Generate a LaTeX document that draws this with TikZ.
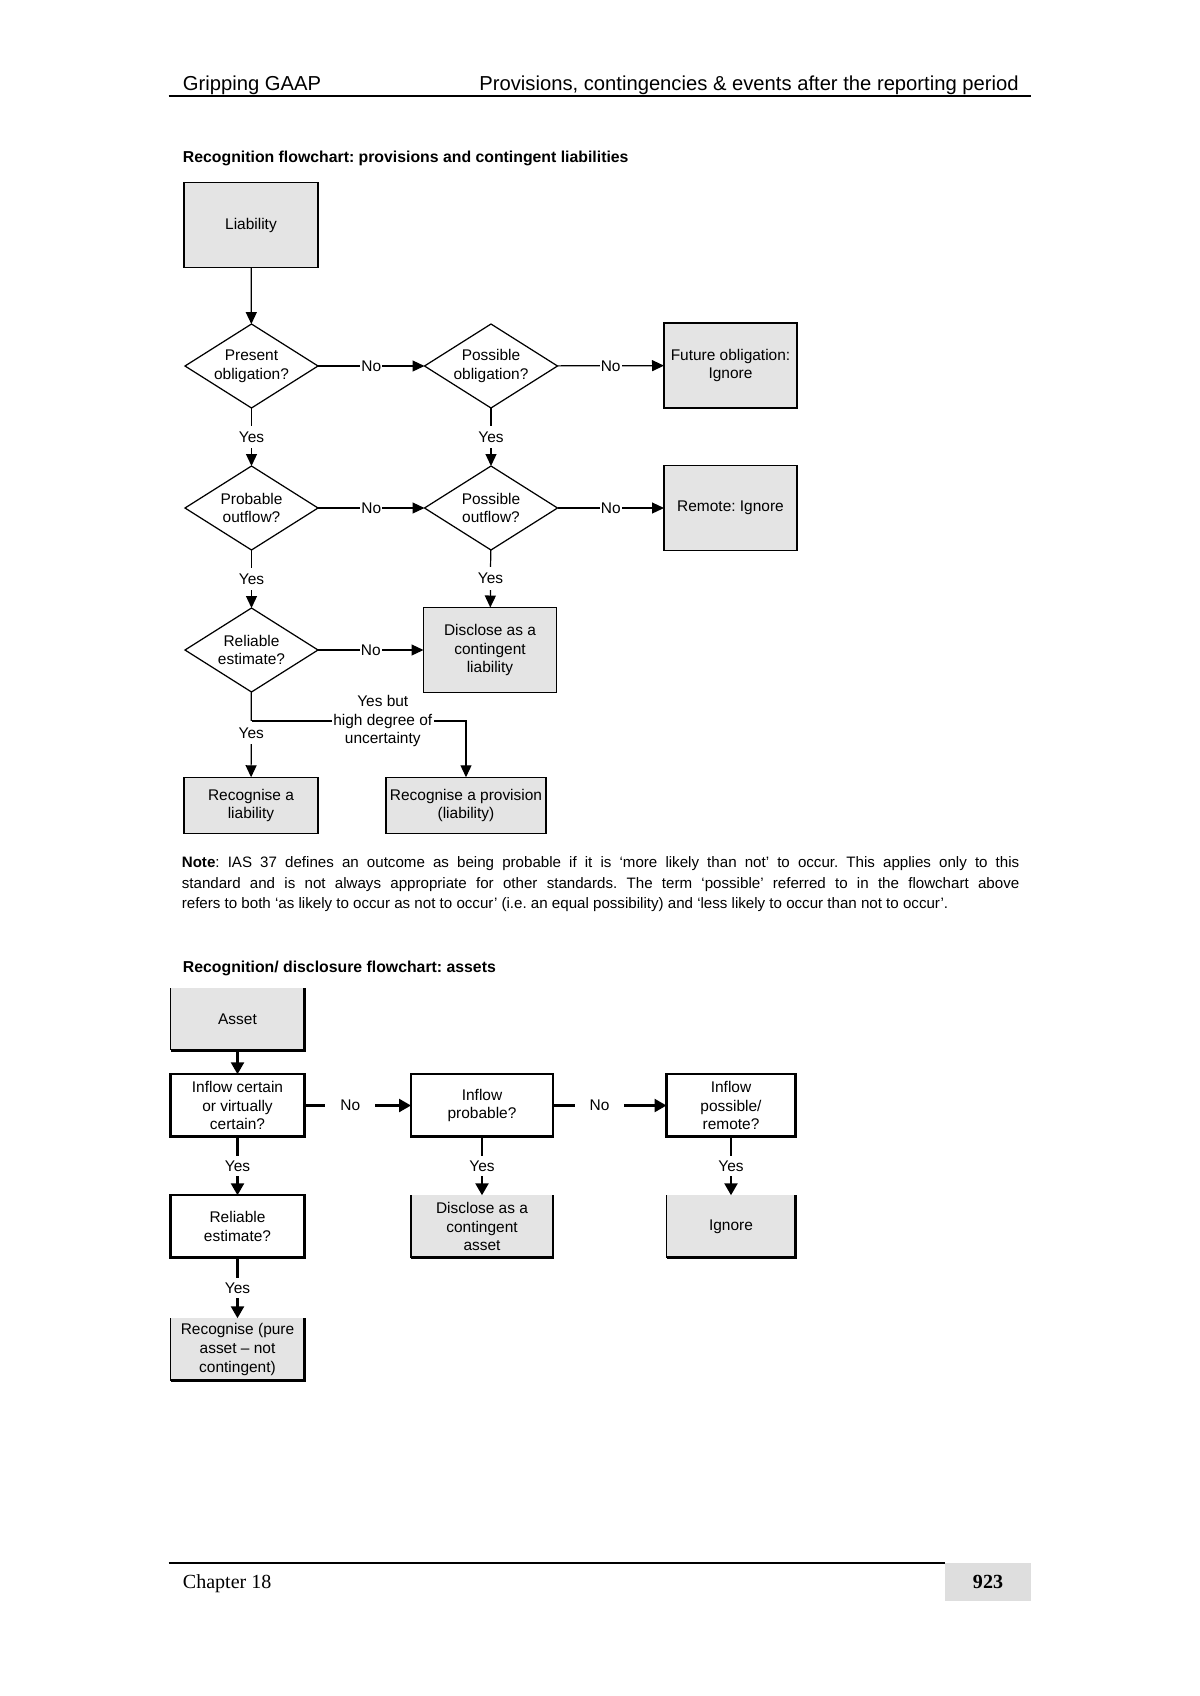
\documentclass[tikz,border=0pt]{standalone}
\usepackage{fontspec}
\setmainfont{Liberation Sans}
\newfontfamily\footserif{Liberation Serif}
\usetikzlibrary{shapes.geometric,arrows.meta}
\definecolor{boxgray}{RGB}{228,228,228}
\definecolor{pagegray}{RGB}{222,222,222}
\newcommand\rbedge[1]{\draw[line width=1.7pt] (#1.south west) -- (#1.south east) -- (#1.north east);}
\newcommand\grayedges[1]{\draw[line width=0.7pt] (#1.north west) -- (#1.south west);\rbedge{#1}}
\frenchspacing
\begin{document}
\begin{tikzpicture}[x=0.2mm,y=-0.2mm,
  chart/.style={font=\fontsize{8.8}{10.6}\selectfont, align=center},
  lbox/.style={chart, draw, fill=boxgray, line width=0.7pt, minimum width=26.8mm, minimum height=17mm, inner sep=0pt, outer sep=0pt},
  ldia/.style={diamond, draw, fill=white, line width=0.7pt, minimum width=26.6mm, minimum height=16.8mm, inner sep=0pt, outer sep=0pt},
  larr/.style={line width=0.7pt, -{Triangle[length=2.4mm,width=2.2mm]}},
  lbl/.style={chart, fill=white, inner xsep=0.6pt, inner ysep=1.2mm},
  awbox/.style={chart, draw, fill=white, line width=1.2pt, minimum height=12.5mm, inner sep=0pt, outer sep=0pt},
  agbox/.style={chart, fill=boxgray, minimum height=12.5mm, inner sep=0pt, outer sep=0pt},
  aarr/.style={line width=1.4pt, -{Triangle[length=2.4mm,width=2.6mm]}},
  albl/.style={chart, fill=white, inner xsep=3mm, inner ysep=1mm},
  hdr/.style={font=\fontsize{11.5}{13}\selectfont, inner sep=0pt},
  ttl/.style={font=\bfseries\fontsize{9}{11}\selectfont, inner sep=0pt, anchor=base west},
  notel/.style={font=\fontsize{8.6}{10}\selectfont, inner sep=0pt, anchor=base west}
]
\useasboundingbox (0,0) rectangle (1200,1696);

% ---------- header ----------
\node[hdr, anchor=base west] (hleft) at (182.6,90) {Gripping GAAP};
\node[hdr, anchor=base east] (hright) at (1019,90) {Provisions, contingencies \& events after the reporting period};
\draw[line width=1.1pt] (168.5,96) -- (1031,96);

% ---------- liability flowchart ----------
\node[ttl] (title1) at (182.6,162) {Recognition flowchart: provisions and contingent liabilities};

\node[lbox] (liab) at (251,225) {Liability};

\node[ldia, label={[chart]center:Present\\obligation?}] (pres) at (251.5,366) {};
\node[ldia, label={[chart]center:Possible\\obligation?}] (posob) at (491,366) {};
\node[lbox, minimum width=26.6mm] (future) at (730.5,365.5) {Future obligation:\\Ignore};

\node[ldia, label={[chart]center:Probable\\outflow?}] (prob) at (251.5,508) {};
\node[ldia, label={[chart]center:Possible\\outflow?}] (posout) at (491,508) {};
\node[lbox, minimum width=26.6mm] (remote) at (730.5,508) {Remote: Ignore};

\node[ldia, label={[chart]center:Reliable\\estimate?}] (rel) at (251.5,650) {};
\node[lbox, minimum width=26.6mm] (disc) at (490,650) {Disclose as a\\contingent\\liability};

\node[lbox, minimum height=11.3mm] (recl) at (251,805.5) {Recognise a\\liability};
\node[lbox, minimum height=11.3mm, minimum width=32mm] (recp) at (466,805.5) {Recognise a provision\\(liability)};

\coordinate (junc) at (251.5,721);

\draw[larr] (liab) -- (pres);
\draw[larr] (pres) -- node[lbl]{No} (posob);
\draw[larr] (posob) -- node[lbl]{No} (future);
\draw[larr] (pres) -- node[lbl]{Yes} (prob);
\draw[larr] (posob) -- node[lbl]{Yes} (posout);
\draw[larr] (prob) -- node[lbl]{No} (posout);
\draw[larr] (posout) -- node[lbl]{No} (remote);
\draw[larr] (prob) -- node[lbl]{Yes} (rel);
\draw[larr] (posout) -- node[lbl]{Yes} (disc);
\draw[larr] (rel) -- node[lbl]{No} (disc);
\draw[larr] (rel) -- node[lbl, pos=0.48]{Yes} (recl);
\draw[larr] (junc) -| node[chart, fill=white, inner sep=1pt, pos=0.306]{Yes but\\high degree of\\uncertainty} (recp);

% ---------- note ----------
\node[notel] (note1) at (181.5,867.5) {\makebox[167.5mm][s]{\textbf{Note}: IAS 37 defines an outcome as being probable if it is `more likely than not' to occur. This applies only to this}};
\node[notel] (note2) at (181.5,888) {\makebox[167.5mm][s]{standard and is not always appropriate for other standards. The term `possible' referred to in the flowchart above}};
\node[notel] (note3) at (181.5,908.5) {refers to both `as likely to occur as not to occur' (i.e. an equal possibility) and `less likely to occur than not to occur'.};

% ---------- asset flowchart ----------
\node[ttl] (title2) at (182.6,972) {Recognition/ disclosure flowchart: assets};

\node[agbox, minimum width=26.8mm, minimum height=12.4mm] (asset) at (237.5,1019) {Asset};
\grayedges{asset}

\node[awbox, minimum width=26.8mm] (ia) at (237.5,1105.5) {Inflow certain\\or virtually\\certain?};
\node[awbox, minimum width=28.4mm] (ib) at (482,1105.5) {Inflow\\probable?};
\node[awbox, minimum width=25.8mm] (ic) at (731,1105.5) {Inflow\\possible/\\remote?};
\rbedge{ia}\rbedge{ib}\rbedge{ic}

\node[awbox, minimum width=26.8mm] (arel) at (237.5,1226.5) {Reliable\\estimate?};
\rbedge{arel}
\node[agbox, minimum width=28.4mm] (adisc) at (482,1226.5) {Disclose as a\\contingent\\asset};
\grayedges{adisc}
\node[agbox, minimum width=25.8mm] (aign) at (731,1226.5) {Ignore};
\grayedges{aign}

\node[agbox, minimum width=26.8mm] (arec) at (237.5,1349.5) {Recognise (pure\\asset -- not\\contingent)};
\grayedges{arec}

\draw[aarr] (asset) -- (ia);
\draw[aarr] (ia) -- node[albl, pos=0.43]{No} (ib);
\draw[aarr] (ib) -- node[albl, pos=0.41]{No} (ic);
\draw[aarr] (ia) -- node[albl]{Yes} (arel);
\draw[aarr] (ib) -- node[albl]{Yes} (adisc);
\draw[aarr] (ic) -- node[albl]{Yes} (aign);
\draw[aarr] (arel) -- node[albl]{Yes} (arec);

% ---------- footer ----------
\draw[line width=0.6pt] (168.5,1563) -- (945,1563);
\node[anchor=base west, inner sep=0pt, font=\footserif\fontsize{11.4}{13}\selectfont] (chap) at (182.6,1588) {Chapter 18};
\node[fill=pagegray, minimum width=17.2mm, minimum height=7.6mm, inner sep=0pt, font=\footserif\bfseries\fontsize{11.4}{13}\selectfont] (pg) at (988,1581.5) {923};
\end{tikzpicture}
\end{document}
